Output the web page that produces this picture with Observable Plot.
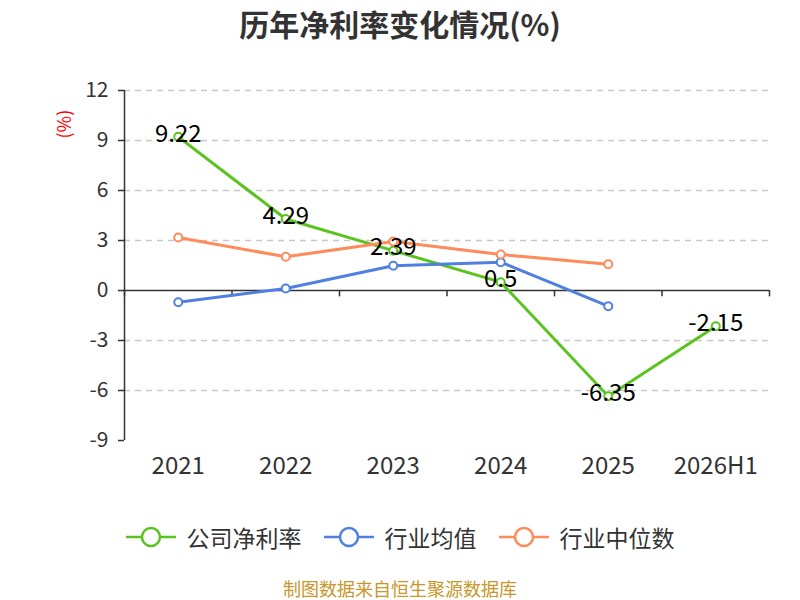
<!DOCTYPE html>
<html>
<head>
<meta charset="utf-8">
<script src="https://cdn.jsdelivr.net/npm/d3@7"></script>
<script src="https://cdn.jsdelivr.net/npm/@observablehq/plot@0.6"></script>
<style>
  body { margin: 0; background: #fff; font-family: "Noto Sans CJK SC", "Noto Sans", sans-serif; }
  #wrap { width: 800px; height: 600px; position: relative; overflow: hidden; }
  #title { height: 45px; line-height: 46px; text-align: center; font-size: 30px; font-weight: bold; color: #333; }
  #legend { display: flex; justify-content: center; align-items: center; height: 30px; margin-top: 17px; font-size: 23px; color: #333; }
  .item { display: flex; align-items: center; margin: 0 11px; }
  .item svg { margin-right: 11px; }
  #caption { position: absolute; left: 0; width: 800px; top: 578px; height: 20px; text-align: center; font-size: 18px; color: #c8962a; line-height: 20px; }
</style>
</head>
<body>
<div id="wrap">
  <div id="title">历年净利率变化情况(%)</div>
  <div id="chart"></div>
  <div id="legend"></div>
  <div id="caption">制图数据来自恒生聚源数据库</div>
</div>
<script>
const categories = ["2021", "2022", "2023", "2024", "2025", "2026H1"];
const companyValues = [9.22, 4.29, 2.39, 0.5, -6.35, -2.15];
const industryAvg = [-0.70, 0.12, 1.48, 1.70, -0.94, null];
const industryMedian = [3.18, 2.02, 2.94, 2.16, 1.58, null];
const yTicks = [-9, -6, -3, 0, 3, 6, 9, 12];
const seriesNames = ["公司净利率", "行业均值", "行业中位数"];
const seriesColors = ["#5ac31f", "#4f80e1", "#fd8c5a"];

const seriesValues = [companyValues, industryAvg, industryMedian];
const rows = [];
seriesValues.forEach((vals, s) => {
  vals.forEach((v, i) => {
    if (v !== null) rows.push({ series: seriesNames[s], i, cat: categories[i], value: v });
  });
});
const idx = categories.map((_, i) => i);
const boundaries = d3.range(-0.5, categories.length, 1);
const companyRows = rows.filter(d => d.series === seriesNames[0]);

const chart = Plot.plot({
  width: 800,
  height: 460,
  marginLeft: 124,
  marginRight: 31,
  marginTop: 45,
  marginBottom: 65,
  style: { fontFamily: "Noto Sans CJK SC, Noto Sans, sans-serif", color: "#333", background: "transparent" },
  x: { type: "linear", domain: [-0.5, categories.length - 0.5] },
  y: { domain: [-9, 12] },
  color: { domain: seriesNames, range: seriesColors },
  marks: [
    Plot.gridY(yTicks.filter(t => t !== 0 && t !== -9), { stroke: "#c8c8c8", strokeOpacity: 1, strokeDasharray: "6,5", strokeWidth: 1.5 }),
    Plot.ruleX([-0.5], { stroke: "#333", strokeWidth: 1.5 }),
    Plot.ruleY([0], { stroke: "#333", strokeWidth: 1.5 }),
    Plot.ruleX(boundaries, { x: d => d, y1: 0, y2: -0.38, stroke: "#333", strokeWidth: 1.5 }),
    Plot.axisY(yTicks, { tickSize: 6, tickPadding: 10, fontSize: 21, fill: "#333", stroke: "#333", strokeWidth: 1.5, label: null, tickFormat: d => String(d) }),
    Plot.axisX(idx, { tickSize: 0, tickPadding: 16, fontSize: 24, fill: "#333", tickFormat: i => categories[i], label: null }),
    Plot.line(rows, { x: "i", y: "value", z: "series", stroke: "series", strokeWidth: 3 }),
    Plot.dot(rows, { x: "i", y: "value", stroke: "series", fill: "#fff", r: 4, strokeWidth: 2 }),
    Plot.text(companyRows, { x: "i", y: "value", text: d => String(d.value), fontSize: 24, fill: "#000", dy: -3 }),
    Plot.text(["(%)"], { frameAnchor: "top-left", dx: -66, dy: 48, rotate: -90, fill: "#ff0000", fontSize: 18 })
  ]
});
document.getElementById("chart").appendChild(chart);

const legend = document.getElementById("legend");
seriesNames.forEach((name, k) => {
  const item = document.createElement("div");
  item.className = "item";
  item.innerHTML = `<svg width="50" height="24"><line x1="0" y1="12" x2="50" y2="12" stroke="${seriesColors[k]}" stroke-width="2.5"/><circle cx="25" cy="12" r="9" fill="#fff" stroke="${seriesColors[k]}" stroke-width="2.5"/></svg><span>${name}</span>`;
  legend.appendChild(item);
});
</script>
</body>
</html>
